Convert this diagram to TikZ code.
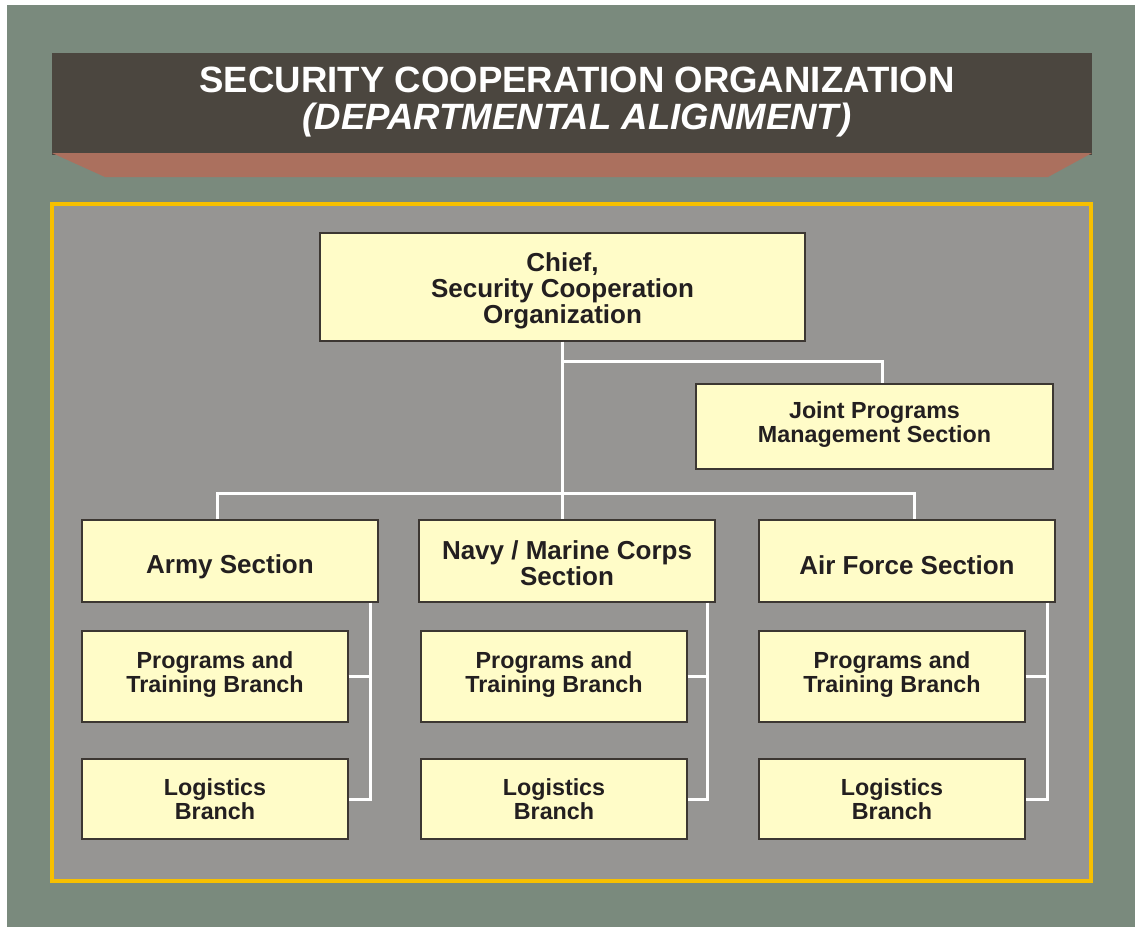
\documentclass[tikz,border=0pt]{standalone}
\usepackage{fontspec}
\setmainfont{Liberation Sans}
\definecolor{bggreen}{HTML}{7A8A7D}
\definecolor{headdark}{HTML}{4B463F}
\definecolor{headbrown}{HTML}{AB705E}
\definecolor{panelgray}{HTML}{969593}
\definecolor{panelgold}{HTML}{F7C000}
\definecolor{boxfill}{HTML}{FFFCC8}
\definecolor{boxline}{HTML}{3C3732}
\definecolor{ink}{HTML}{231F20}

\begin{document}
\begin{tikzpicture}[x=1pt,y=-1pt,
    box/.style={draw=boxline, fill=boxfill, line width=1.2pt, text=ink, align=center, inner sep=0pt},
    big/.style={font=\bfseries\fontsize{26}{26}\selectfont},
    small/.style={font=\bfseries\fontsize{23.3}{24}\selectfont},
    conn/.style={draw=white, line width=3pt}]

        % frame and header
        \useasboundingbox (0,0) rectangle (1135,927);
        \fill[white] (0,0) rectangle (1135,927);
        \fill[bggreen] (7,5) rectangle (1135,927);
        \fill[headdark] (52,53) rectangle (1092,155);
        \fill[headbrown] (52,153) -- (1092,153) -- (1048,177) -- (105,177) -- cycle;
        \node[text=white, align=center, font=\bfseries\fontsize{36.6}{37}\selectfont] (title) at (577,102)
            {SECURITY COOPERATION ORGANIZATION\\\itshape(DEPARTMENTAL ALIGNMENT)};

        \draw[draw=panelgold, fill=panelgray, line width=4pt] (52,204) rectangle (1091,881);

        % boxes
        \node[box, big, text height=79pt, minimum width=485pt, minimum height=108pt] (chief) at (562.5,287)
            {Chief,\\Security Cooperation\\Organization};
        \node[box, small, text depth=9pt, minimum width=357pt, minimum height=85pt] (joint) at (874.5,426.5)
            {Joint Programs\\Management Section};

        \node[box, big, text height=31pt, minimum width=296pt, minimum height=82pt] (army) at (230,561) {Army Section};
        \node[box, big, text height=49.5pt, minimum width=296pt, minimum height=82pt] (navy) at (567,561) {Navy / Marine Corps\\Section};
        \node[box, big, text height=27pt, minimum width=296pt, minimum height=82pt] (air) at (907,561) {Air Force Section};

        \node[box, small, text depth=9pt, minimum width=266pt, minimum height=91pt] (army-p) at (215,676.5) {Programs and\\Training Branch};
        \node[box, small, minimum width=266pt, minimum height=80pt] (army-l) at (215,799) {Logistics\\Branch};
        \node[box, small, text depth=9pt, minimum width=266pt, minimum height=91pt] (navy-p) at (554,676.5) {Programs and\\Training Branch};
        \node[box, small, minimum width=266pt, minimum height=80pt] (navy-l) at (554,799) {Logistics\\Branch};
        \node[box, small, text depth=9pt, minimum width=266pt, minimum height=91pt] (air-p) at (892,676.5) {Programs and\\Training Branch};
        \node[box, small, minimum width=266pt, minimum height=80pt] (air-l) at (892,799) {Logistics\\Branch};

        % connectors
        \coordinate (bar) at (562.5,493);
        \coordinate (jbar) at (562.5,361);
        \draw[conn] (chief.south) -- (chief.south |- navy.north);
        \draw[conn] ([xshift=-13pt]army.north) |- (bar) -| ([xshift=7pt]air.north);
        \draw[conn] (jbar) -| ([xshift=7.5pt]joint.north);

        \foreach \s in {army,navy,air}{
            \draw[conn] ([xshift=-8.5pt]\s.south east) coordinate (\s-drop) |- (\s-l.east);
            \draw[conn] (\s-p.east) -- (\s-p.east -| \s-drop);
        }

\end{tikzpicture}
\end{document}
